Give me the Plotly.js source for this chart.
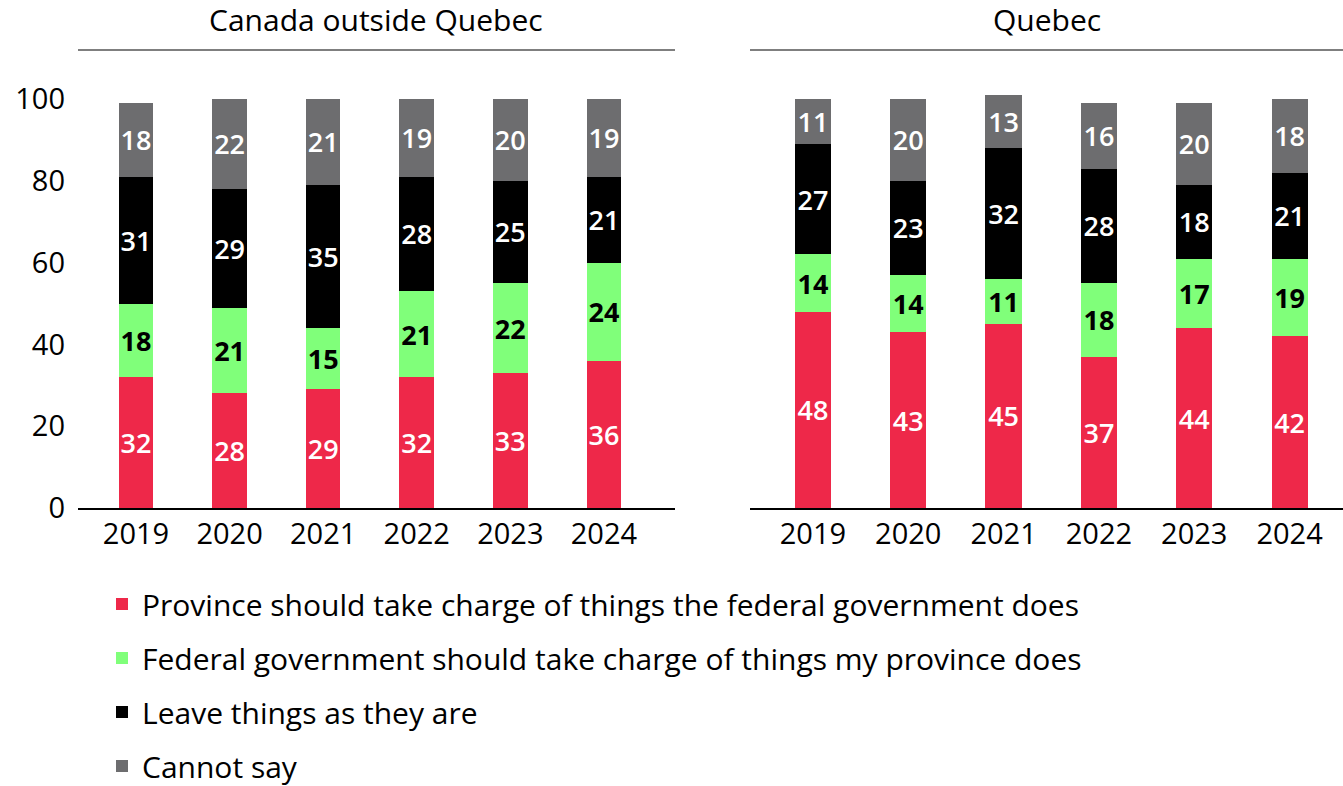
<!DOCTYPE html>
<html>
<head>
<meta charset="utf-8">
<script src="https://cdn.plot.ly/plotly-3.0.1.min.js"></script>
<style>html,body{margin:0;padding:0;background:#fff;}#chart{width:1343px;height:786px;}</style>
</head>
<body>
<div id="chart"></div>
<script>
const years = ["2019","2020","2021","2022","2023","2024"];
const seriesNames = [
  "Province should take charge of things the federal government does",
  "Federal government should take charge of things my province does",
  "Leave things as they are",
  "Cannot say"
];
// Canada outside Quebec
const rocProvince = [32, 28, 29, 32, 33, 36];
const rocFederal  = [18, 21, 15, 21, 22, 24];
const rocLeave    = [31, 29, 35, 28, 25, 21];
const rocCannot   = [18, 22, 21, 19, 20, 19];
// Quebec
const qcProvince = [48, 43, 45, 37, 44, 42];
const qcFederal  = [14, 14, 11, 18, 17, 19];
const qcLeave    = [27, 23, 32, 28, 18, 21];
const qcCannot   = [11, 20, 13, 16, 20, 18];
const yTicks = [0, 20, 40, 60, 80, 100];
const panelTitles = ["Canada outside Quebec", "Quebec"];

const colors = ["#EE2849", "#80FF7A", "#000000", "#6D6D6F"];
const textColors = ["#FFFFFF", "#000000", "#FFFFFF", "#FFFFFF"];
const textWeights = [600, 700, 600, 600];
const FONT = "'Open Sans', Lato, sans-serif";

const rocData = [rocProvince, rocFederal, rocLeave, rocCannot];
const qcData = [qcProvince, qcFederal, qcLeave, qcCannot];

const traces = [];
[[rocData, "x", "y", 0.37], [qcData, "x2", "y2", 0.38]].forEach(([data, xa, ya, w], pi) => {
  data.forEach((vals, i) => {
    traces.push({
      type: "bar",
      x: years,
      y: vals,
      xaxis: xa,
      yaxis: ya,
      name: seriesNames[i],
      legendgroup: "g" + i,
      showlegend: pi === 0,
      width: w,
      marker: {color: colors[i], line: {width: 0}},
      text: vals.map(String),
      textposition: "inside",
      insidetextanchor: "middle",
      textangle: 0,
      constraintext: "none",
      textfont: {family: FONT, size: 27, color: textColors[i], weight: textWeights[i]},
      hoverinfo: "skip"
    });
  });
});

const plotTop = 50, plotBottom = 508, H = 786;
const pxPerUnit = 4.09;
const yMax = (plotBottom - plotTop) / pxPerUnit;
const ph = plotBottom - plotTop;

const layout = {
  width: 1343,
  height: 786,
  margin: {l: 0, r: 0, t: plotTop, b: H - plotBottom, pad: 0, autoexpand: false},
  paper_bgcolor: "#fff",
  plot_bgcolor: "#fff",
  barmode: "stack",
  font: {family: FONT, color: "#000", size: 28},
  showlegend: true,
  legend: {
    orientation: "v",
    x: 102 / 1343,
    xanchor: "left",
    y: -(578 - plotBottom) / ph,
    yanchor: "top",
    traceorder: "grouped",
    tracegroupgap: 12,
    font: {family: FONT, size: 30, color: "#000"},
    bgcolor: "rgba(0,0,0,0)"
  },
  xaxis: {
    domain: [78 / 1343, 675 / 1343],
    range: [-0.62, 5.76],
    type: "category",
    showline: true, linecolor: "#000", linewidth: 1.5,
    showgrid: false, zeroline: false, ticks: "",
    tickfont: {family: FONT, size: 29, color: "#000"},
    anchor: "y"
  },
  yaxis: {
    domain: [0, 1],
    range: [0, yMax],
    tickvals: yTicks,
    ticktext: yTicks.map(String),
    showline: false, showgrid: false, zeroline: false, ticks: "",
    ticklabelstandoff: 12,
    tickfont: {family: FONT, size: 29, color: "#000"},
    anchor: "x"
  },
  xaxis2: {
    domain: [750 / 1343, 1],
    range: [-0.66, 5.56],
    type: "category",
    showline: true, linecolor: "#000", linewidth: 1.5,
    showgrid: false, zeroline: false, ticks: "",
    tickfont: {family: FONT, size: 29, color: "#000"},
    anchor: "y2"
  },
  yaxis2: {
    domain: [0, 1],
    range: [0, yMax],
    showticklabels: false,
    showline: false, showgrid: false, zeroline: false, ticks: "",
    anchor: "x2"
  },
  shapes: [
    {type: "line", xref: "x domain", yref: "paper", x0: 0, x1: 1, y0: 1, y1: 1, line: {color: "#555", width: 1.5}},
    {type: "line", xref: "x2 domain", yref: "paper", x0: 0, x1: 1, y0: 1, y1: 1, line: {color: "#555", width: 1.5}}
  ],
  annotations: [
    {text: panelTitles[0], xref: "x domain", yref: "paper", x: 0.5, y: (plotBottom - 20) / ph, xanchor: "center", yanchor: "middle", showarrow: false, font: {family: FONT, size: 30, color: "#000"}},
    {text: panelTitles[1], xref: "x2 domain", yref: "paper", x: 0.5, y: (plotBottom - 20) / ph, xanchor: "center", yanchor: "middle", showarrow: false, font: {family: FONT, size: 30, color: "#000"}}
  ]
};

Plotly.newPlot("chart", traces, layout, {displayModeBar: false, staticPlot: true});
</script>
</body>
</html>
